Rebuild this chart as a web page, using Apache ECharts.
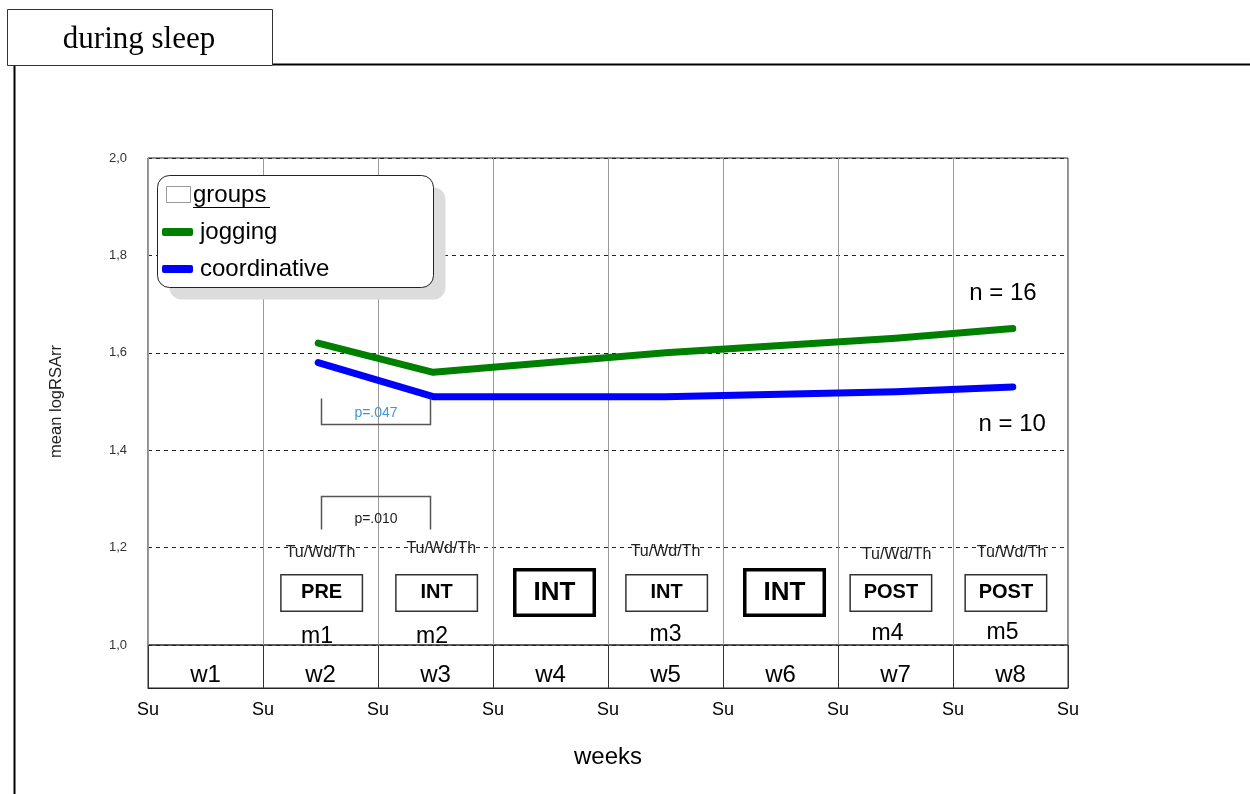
<!DOCTYPE html>
<html>
<head>
<meta charset="utf-8">
<script src="https://cdn.jsdelivr.net/npm/echarts@6/dist/echarts.min.js"></script>
<style>
  html, body { margin: 0; padding: 0; background: #fff; }
  #chart { width: 1250px; height: 794px; }
</style>
</head>
<body>
<div id="chart"></div>
<script>
// ---- data ----
const weekLabels = ['w1', 'w2', 'w3', 'w4', 'w5', 'w6', 'w7', 'w8'];
const measureNames = ['m1', 'm2', 'm3', 'm4', 'm5'];
// measurement time in weeks from the first Sunday
const measureWeeks = [1.48, 2.48, 4.5, 6.5, 7.52];
const jogging = [1.62, 1.56, 1.60, 1.63, 1.65];
const coordinative = [1.58, 1.51, 1.51, 1.52, 1.53];
const groupSizes = { jogging: 16, coordinative: 10 };
const yTicks = [1.0, 1.2, 1.4, 1.6, 1.8, 2.0];

// study phase per week (week index, label, main intervention week)
const phases = [
  [1, 'PRE', false], [2, 'INT', false], [3, 'INT', true], [4, 'INT', false],
  [5, 'INT', true], [6, 'POST', false], [7, 'POST', false]
];
// weeks with measurement days
const measureDayWeeks = [1, 2, 4, 6, 7];
const measureDays = 'Tu/Wd/Th';

// significance brackets: [from week, to week, bracket top, bracket bottom, text, colour, open top]
const brackets = [
  [1.50, 2.45, 1.507, 1.454, 'p=.047', '#3f95d8', true],
  [1.50, 2.45, 1.306, 1.238, 'p=.010', '#222', false]
];

const FONT = '"Liberation Sans", Arial, sans-serif';

const chart = echarts.init(document.getElementById('chart'), null, { renderer: 'canvas' });

function textSeries(name, data, label, xi, yi) {
  return {
    type: 'scatter', name: name, silent: true,
    xAxisIndex: xi || 0, yAxisIndex: yi || 0,
    symbolSize: 1, itemStyle: { color: 'rgba(0,0,0,0)', opacity: 1 },
    emphasis: { disabled: true },
    data: data,
    label: Object.assign({ show: true, position: 'inside', fontFamily: FONT, color: '#000', opacity: 1,
      formatter: p => p.data.value[2] }, label),
    z: 6
  };
}

const phaseNormal = phases.filter(p => !p[2]).map(p => ({ value: [p[0] + (p[1] === 'POST' ? 0.46 : 0.51), 1.107, p[1]] }));
const phaseBold = phases.filter(p => p[2]).map(p => ({ value: [p[0] + 0.535, 1.108, p[1]] }));
const dayData = measureDayWeeks.map((w, i) => ({ value: [w + 0.5 + [0, 0.05, 0, 0.01, 0.01][i], [1.189, 1.197, 1.191, 1.185, 1.189][i], measureDays] }));
const mData = measureNames.map((m, i) => ({ value: [[1.47, 2.47, 4.5, 6.43, 7.43][i], [1.017, 1.017, 1.022, 1.024, 1.026][i], m] }));
const weekData = weekLabels.map((w, i) => ({ value: [i + 0.5, 0.3, w] }));
const nData = [
  { value: [7.435, 1.721, 'n = ' + groupSizes.jogging] },
  { value: [7.515, 1.454, 'n = ' + groupSizes.coordinative] }
];

const option = {
  animation: false,
  backgroundColor: '#fff',
  textStyle: { fontFamily: FONT },
  grid: [
    { left: 148, top: 158, width: 920, height: 487, show: true, borderColor: '#222', borderWidth: 1, backgroundColor: 'transparent' },
    { left: 148, top: 645, width: 920, height: 43, show: true, borderColor: '#222', borderWidth: 1, backgroundColor: 'transparent' }
  ],
  xAxis: [
    { type: 'value', gridIndex: 0, min: 0, max: 8, interval: 1,
      axisLine: { show: false }, axisTick: { show: false }, axisLabel: { show: false },
      splitLine: { show: true, lineStyle: { color: '#999', width: 1 } } },
    { type: 'value', gridIndex: 1, min: 0, max: 8, interval: 1,
      name: 'weeks', nameLocation: 'middle', nameGap: 57,
      nameTextStyle: { fontSize: 24, color: '#000', fontFamily: FONT },
      axisLine: { show: true, lineStyle: { color: '#222' } }, axisTick: { show: false },
      axisLabel: { formatter: () => 'Su', fontSize: 18, color: '#000', margin: 13, fontFamily: FONT, showMinLabel: true, showMaxLabel: true },
      splitLine: { show: true, lineStyle: { color: '#333', width: 1 } } }
  ],
  yAxis: [
    { type: 'value', gridIndex: 0, min: yTicks[0], max: yTicks[yTicks.length - 1], interval: 0.2,
      name: 'mean logRSArr', nameLocation: 'middle', nameRotate: 90, nameGap: 83,
      nameTextStyle: { fontSize: 16.5, color: '#222', fontFamily: FONT },
      axisLine: { show: false }, axisTick: { show: false },
      axisLabel: { formatter: v => v.toFixed(1).replace('.', ','), fontSize: 13, color: '#333', margin: 21, fontFamily: FONT },
      splitLine: { show: true, lineStyle: { color: '#222', width: 1, type: [4, 4] } } },
    { type: 'value', gridIndex: 1, min: 0, max: 1, show: false, splitLine: { show: false } }
  ],
  legend: {
    orient: 'vertical', left: 162, top: 218, padding: 0, itemGap: 9,
    itemWidth: 31, itemHeight: 8, z: 30,
    selectedMode: false,
    textStyle: { fontSize: 24, color: '#000', fontFamily: FONT, lineHeight: 28, padding: [0, 0, 0, 2] },
    data: [
      { name: 'jogging', icon: 'roundRect' },
      { name: 'coordinative', icon: 'roundRect' }
    ]
  },
  series: [
    { type: 'line', name: 'jogging', data: measureWeeks.map((w, i) => [w, jogging[i]]),
      symbol: 'none', color: '#008000', z: 5,
      lineStyle: { width: 7, color: '#008000', cap: 'round', join: 'round' } },
    { type: 'line', name: 'coordinative', data: measureWeeks.map((w, i) => [w, coordinative[i]]),
      symbol: 'none', color: '#0000ff', z: 5,
      lineStyle: { width: 7, color: '#0000ff', cap: 'round', join: 'round' } },
    textSeries('phase', phaseNormal, {
      fontSize: 20, fontWeight: 'bold', backgroundColor: '#fff', borderColor: '#333', borderWidth: 1.5,
      width: 80, height: 22, lineHeight: 22, padding: [7, 0, 6, 0], align: 'center'
    }),
    textSeries('phaseMain', phaseBold, {
      fontSize: 26, fontWeight: 'bold', backgroundColor: '#fff', borderColor: '#000', borderWidth: 3.5,
      width: 76, height: 28, lineHeight: 28, padding: [7, 0, 7, 0], align: 'center'
    }),
    textSeries('days', dayData, { fontSize: 16, color: '#222' }),
    textSeries('measures', mData, { fontSize: 23, color: '#000' }),
    textSeries('nSizes', nData, { fontSize: 24, color: '#000' }),
    textSeries('weeks', weekData, { fontSize: 24, color: '#000' }, 1, 1)
  ]
};

chart.setOption(option);

// decorations: frame, title tab, legend panel and significance brackets
const g = [];
g.push({ type: 'rect', z: 1, shape: { x: 7.5, y: 9.5, width: 265, height: 56 }, style: { fill: '#fff', stroke: '#333', lineWidth: 1 } });
g.push({ type: 'text', z: 2, x: 139, y: 40, style: { text: 'during sleep', font: '31px "Liberation Serif", "Times New Roman", serif', fill: '#000', textAlign: 'center', textVerticalAlign: 'middle' } });
g.push({ type: 'line', z: 1, shape: { x1: 273, y1: 64.5, x2: 1250, y2: 64.5 }, style: { stroke: '#000', lineWidth: 2 } });
g.push({ type: 'line', z: 1, shape: { x1: 14.5, y1: 66, x2: 14.5, y2: 794 }, style: { stroke: '#000', lineWidth: 2 } });

// legend panel with a flat drop shadow
g.push({ type: 'rect', z: 9, shape: { x: 169.5, y: 187.5, width: 276, height: 112, r: 12 }, style: { fill: '#dcdcdc' } });
g.push({ type: 'rect', z: 10, shape: { x: 157.5, y: 175.5, width: 276, height: 112, r: 12 }, style: { fill: '#fff', stroke: '#222', lineWidth: 1 } });
g.push({ type: 'rect', z: 11, shape: { x: 166.5, y: 186.5, width: 24, height: 16 }, style: { fill: '#fff', stroke: '#999', lineWidth: 1 } });
g.push({ type: 'text', z: 11, x: 193, y: 195, style: { text: 'groups', font: '24px ' + FONT, fill: '#000', textVerticalAlign: 'middle' } });
g.push({ type: 'line', z: 11, shape: { x1: 193, y1: 207.5, x2: 270, y2: 207.5 }, style: { stroke: '#000', lineWidth: 1.2 } });

brackets.forEach(b => {
  const tl = chart.convertToPixel({ gridIndex: 0 }, [b[0], b[2]]);
  const br = chart.convertToPixel({ gridIndex: 0 }, [b[1], b[3]]);
  const x1 = Math.round(tl[0]) + 0.5, x2 = Math.round(br[0]) + 0.5;
  const yt = Math.round(tl[1]) + 0.5, yb = Math.round(br[1]) + 0.5;
  // open-top bracket for the first, open-bottom for the second
  const pts = b[6] ? [[x1, yt], [x1, yb], [x2, yb], [x2, yt]] : [[x1, yb], [x1, yt], [x2, yt], [x2, yb]];
  g.push({ type: 'polyline', z: 7, shape: { points: pts }, style: { stroke: '#555', lineWidth: 1.5, fill: null } });
  const ty = b[6] ? yb - 11 : yb - 10;
  g.push({ type: 'text', z: 8, x: (x1 + x2) / 2, y: ty, style: { text: b[4], font: '14px ' + FONT, fill: b[5], textAlign: 'center', textVerticalAlign: 'middle' } });
});

chart.setOption({ graphic: g });
</script>
</body>
</html>
